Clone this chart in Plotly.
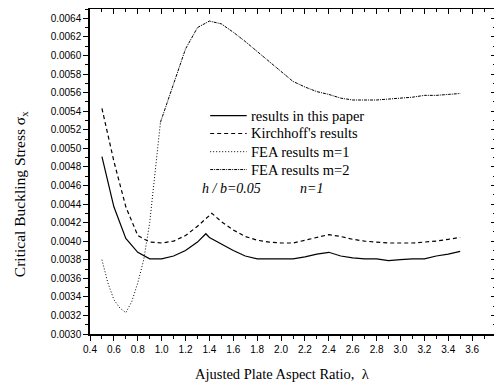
import plotly.graph_objects as go

# ---- data ----
x_paper = [0.5, 0.6, 0.7, 0.8, 0.9, 1.0, 1.1, 1.2, 1.3, 1.37, 1.4, 1.5, 1.6, 1.7, 1.8, 1.9, 2.0,
           2.1, 2.2, 2.3, 2.4, 2.5, 2.6, 2.7, 2.8, 2.9, 3.0, 3.1, 3.2, 3.3, 3.4, 3.5]
y_paper = [0.00491, 0.00437, 0.00403, 0.00388, 0.00381, 0.00381, 0.00384, 0.00390, 0.00399, 0.00408,
           0.00404, 0.00397, 0.00390, 0.00384, 0.00381, 0.00381, 0.00381, 0.00381, 0.00383, 0.00386,
           0.00388, 0.00384, 0.00382, 0.00381, 0.00381, 0.00379, 0.00380, 0.00381, 0.00381, 0.00384,
           0.00386, 0.00389]

x_kirch = [0.5, 0.6, 0.7, 0.8, 0.9, 1.0, 1.1, 1.2, 1.3, 1.42, 1.5, 1.6, 1.7, 1.8, 1.9, 2.0,
           2.1, 2.2, 2.3, 2.4, 2.5, 2.6, 2.7, 2.8, 2.9, 3.0, 3.1, 3.2, 3.3, 3.4, 3.5]
y_kirch = [0.00543, 0.00486, 0.00437, 0.00406, 0.00399, 0.00398, 0.00400, 0.00406, 0.00416, 0.00430,
           0.00421, 0.00412, 0.00405, 0.00401, 0.00399, 0.00398, 0.00398, 0.00401, 0.00404, 0.00407,
           0.00405, 0.00402, 0.00400, 0.00399, 0.00398, 0.00398, 0.00398, 0.00399, 0.00400, 0.00402,
           0.00404]

x_fea1 = [0.5, 0.55, 0.6, 0.65, 0.7, 0.75, 0.8, 0.85, 0.9, 0.95, 0.99]
y_fea1 = [0.00380, 0.00355, 0.00337, 0.00328, 0.00323, 0.00335, 0.00355, 0.00380, 0.00420, 0.00480, 0.00528]

x_fea2 = [0.99, 1.1, 1.2, 1.3, 1.4, 1.5, 1.6, 1.7, 1.8, 1.9, 2.0, 2.1, 2.2, 2.3, 2.4, 2.5,
          2.6, 2.7, 2.8, 2.9, 3.0, 3.1, 3.2, 3.3, 3.4, 3.5]
y_fea2 = [0.00528, 0.00570, 0.00607, 0.00630, 0.00637, 0.00634, 0.00625, 0.00615, 0.00604, 0.00593,
          0.00582, 0.00572, 0.00566, 0.00561, 0.00558, 0.00554, 0.00552, 0.00552, 0.00552, 0.00553,
          0.00554, 0.00555, 0.00557, 0.00557, 0.00558, 0.00559]

series_names = ["results in this paper", "Kirchhoff's results", "FEA results m=1", "FEA results m=2"]

x_ticks = [0.4, 0.6, 0.8, 1.0, 1.2, 1.4, 1.6, 1.8, 2.0, 2.2, 2.4, 2.6, 2.8, 3.0, 3.2, 3.4, 3.6, 3.8]
y_ticks = [0.0030, 0.0032, 0.0034, 0.0036, 0.0038, 0.0040, 0.0042, 0.0044, 0.0046, 0.0048,
           0.0050, 0.0052, 0.0054, 0.0056, 0.0058, 0.0060, 0.0062, 0.0064]

SERIF = "Liberation Serif, Times New Roman, serif"
SANS = "Liberation Sans, Arial, sans-serif"

styles = [
    dict(color="black", width=1.2),
    dict(color="black", width=1.2, dash="4px,3px"),
    dict(color="black", width=1, dash="1px,2px"),
    dict(color="black", width=1, dash="3px,1px,1px,1px"),
]

fig = go.Figure()
for xs, ys, nm, st in zip([x_paper, x_kirch, x_fea1, x_fea2],
                          [y_paper, y_kirch, y_fea1, y_fea2], series_names, styles):
    fig.add_trace(go.Scatter(x=xs, y=ys, mode="lines", name=nm, line=st, showlegend=False))

# empty trace to create mirrored top/right axes with inward ticks
fig.add_trace(go.Scatter(x=[], y=[], xaxis="x2", yaxis="y2", showlegend=False, hoverinfo="skip"))

xr = [0.4, 3.8]
yr = [0.0030, 0.0065]
common_x = dict(range=xr, tickvals=x_ticks, showgrid=False, zeroline=False, automargin=False,
                showline=True, linecolor="black", linewidth=1.5)
common_y = dict(range=yr, tickvals=y_ticks, showgrid=False, zeroline=False, automargin=False,
                showline=True, linecolor="black", linewidth=1.5)

# custom legend (rows spaced like the reference)
leg_rows = [0.672, 0.617, 0.561, 0.506]
shapes = []
annotations = []
for nm, st, yy in zip(series_names, styles, leg_rows):
    shapes.append(dict(type="line", xref="paper", yref="paper", x0=0.296, x1=0.386, y0=yy, y1=yy,
                       line=st))
    annotations.append(dict(text=nm, x=0.391, y=yy, xref="paper", yref="paper",
                            xanchor="left", yanchor="middle", showarrow=False,
                            font=dict(family=SERIF, size=14.5, color="black")))

annotations += [
    dict(text="<i>h / b=0.05</i>", x=0.271, y=0.447, xref="paper", yref="paper",
         xanchor="left", yanchor="middle", showarrow=False,
         font=dict(family=SERIF, size=14, color="black")),
    dict(text="<i>n=1</i>", x=0.512, y=0.447, xref="paper", yref="paper",
         xanchor="left", yanchor="middle", showarrow=False,
         font=dict(family=SERIF, size=14, color="black")),
    dict(text="Ajusted Plate Aspect Ratio,  λ", x=0.473, y=-0.124, xref="paper", yref="paper",
         xanchor="center", yanchor="middle", showarrow=False,
         font=dict(family=SERIF, size=14.5, color="black")),
    dict(text="Critical Buckling Stress σ<sub>x</sub>", x=-0.201, y=0.43, xref="paper", yref="paper",
         xanchor="left", yanchor="middle", showarrow=False, textangle=-90,
         font=dict(family=SERIF, size=15.5, color="black")),
]

# the page body has an 8px default margin, so the figure is 8px smaller and shifted
fig.update_layout(
    width=494, height=377,
    margin=dict(l=82, r=6, t=1, b=51),
    paper_bgcolor="white", plot_bgcolor="white",
    showlegend=False,
    xaxis=dict(**common_x, ticks="outside", ticklen=5, tickwidth=1.2, tickcolor="black",
               tickformat=".1f", tickfont=dict(family=SANS, size=10, color="black"),
               minor=dict(dtick=0.1, tick0=0.4, ticks="outside", ticklen=3, tickcolor="black")),
    yaxis=dict(**common_y, ticks="outside", ticklen=5, tickwidth=1.2, tickcolor="black",
               tickformat=".4f", tickfont=dict(family=SANS, size=10, color="black"),
               minor=dict(dtick=0.0001, tick0=0.003, ticks="outside", ticklen=3, tickcolor="black")),
    xaxis2=dict(**common_x, overlaying="x", side="top", ticks="inside", ticklen=5,
                tickcolor="black", showticklabels=False,
                minor=dict(dtick=0.1, tick0=0.4, ticks="inside", ticklen=3, tickcolor="black")),
    yaxis2=dict(**common_y, overlaying="y", side="right", ticks="inside", ticklen=5,
                tickcolor="black", showticklabels=False,
                minor=dict(dtick=0.0001, tick0=0.003, ticks="inside", ticklen=3, tickcolor="black")),
    shapes=shapes,
    annotations=annotations,
)

fig.write_html("out.html")
